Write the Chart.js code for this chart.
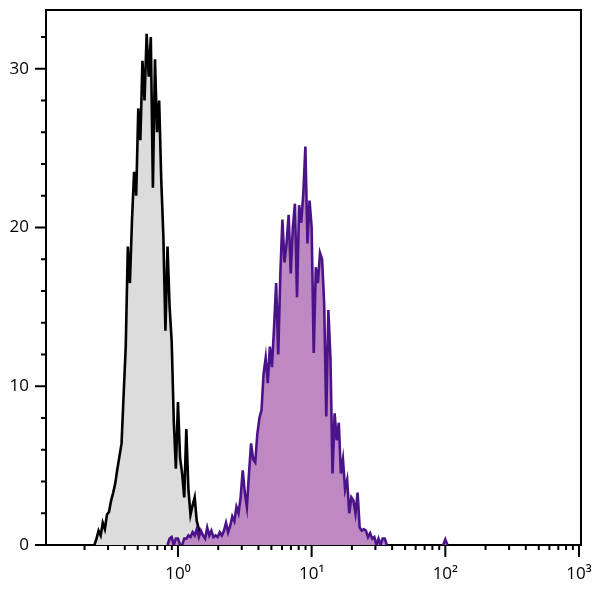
<!DOCTYPE html>
<html>
<head>
<meta charset="utf-8">
<style>
  html, body { margin: 0; padding: 0; background: #fff; }
  #wrap { width: 600px; height: 593px; }
</style>
<script src="https://cdn.jsdelivr.net/npm/chart.js@4.4.1/dist/chart.umd.min.js"></script>
</head>
<body>
<div id="wrap"><canvas id="c" width="600" height="593"></canvas></div>
<script>
// ---- binning of the histogram channels (log10 scale, 64 channels per decade) ----
const binStartLog = -1;
const binsPerDecade = 64;

// ---- control (unstained) histogram: grey fill, black outline ----
const controlStartBin = 24;
const controlCounts = [
  0, 0.4, 0.9, 0.6, 1.4, 1.0, 1.9, 2.1, 2.8, 3.3, 3.9, 4.8, 5.6, 6.4, 9.5, 12.5,
  18.8, 16.5, 20.5, 23.5, 22.0, 27.5, 25.5, 30.5, 28.0, 32.2, 29.5, 32.0, 22.5,
  30.6, 26.0, 28.0, 23.0, 19.5, 13.5, 18.8, 15.0, 12.8, 7.8, 4.8, 9.0, 5.5, 4.5,
  3.0, 7.3, 3.5, 1.9, 2.5, 3.0, 1.5, 1.0, 0.4, 0
];

// ---- stained histogram: purple fill, dark purple outline ----
const stainedStartBin = 59;
const stainedCounts = [
  0, 0.4, 0.5, 0, 0.4, 0.4, 0, 0, 0.4, 0.4, 0.6,
  0.5, 0.8, 0.6, 1.0, 0.5, 0.9, 0.6, 0.4, 1.1, 0.6,
  0.9, 0.5, 0.6, 0.5, 0.8, 0.6, 0.9, 1.4, 0.8, 1.2,
  1.8, 1.5, 2.4, 2.0, 3.0, 4.7, 3.3, 2.4, 4.5, 6.4,
  5.4, 5.2, 7.0, 8.0, 8.5, 10.8, 11.8, 10.2, 12.5, 11.2,
  13.7, 16.5, 12.0, 17.0, 20.5, 17.8, 19.0, 20.8, 17.1, 20.0,
  21.5, 15.6, 21.4, 20.3, 22.1, 25.1, 19.0, 21.7, 20.0, 12.1,
  17.5, 16.5, 18.4, 18.0, 15.2, 8.1, 14.8, 11.8, 4.5, 8.3,
  6.6, 7.7, 4.5, 5.4, 3.5, 4.1, 2.0, 3.0, 2.8, 2.0,
  3.3, 1.1, 0.9, 1.0, 0.9, 0.5, 0.75, 0.4, 0.5, 0,
  0.4, 0, 0.4, 0.4, 0
];
const stainedTailStartBin = 191;
const stainedTailCounts = [0, 0.35, 0];

// ---- axes ----
const xMin = 0.103, xMax = 1035;
const yMin = 0, yMax = 33.7;
const xMajorTicks = [1, 10, 100, 1000];
const xMajorLabels = ['10\u2070', '10\u00B9', '10\u00B2', '10\u00B3'];
const xMinorTicks = [0.2,0.3,0.4,0.5,0.6,0.7,0.8,0.9, 2,3,4,5,6,7,8,9, 20,30,40,50,60,70,80,90, 200,300,400,500,600,700,800,900];
const yMajorTicks = [0, 10, 20, 30];
const yMajorLabels = ['0', '10', '20', '30'];
const yMinorTicks = [2,4,6,8, 12,14,16,18, 22,24,26,28, 32];

function toPoints(startBin, counts) {
  return counts.map((c, i) => ({ x: Math.pow(10, binStartLog + (startBin + i) / binsPerDecade), y: c }));
}

const stainedPoints = toPoints(stainedStartBin, stainedCounts)
  .concat([{ x: Math.pow(10, binStartLog + 177 / binsPerDecade), y: null }])
  .concat(toPoints(stainedTailStartBin, stainedTailCounts));
const controlPoints = toPoints(controlStartBin, controlCounts);

const tickPlugin = {
  id: 'frameTicks',
  afterDraw(chart) {
    const { ctx, chartArea: a, scales: { x, y } } = chart;
    ctx.save();
    ctx.strokeStyle = '#000';
    ctx.lineWidth = 2;
    ctx.lineCap = 'butt';
    ctx.beginPath();
    ctx.moveTo(a.left - 1, a.top);
    ctx.lineTo(a.right, a.top);
    ctx.lineTo(a.right, a.bottom + 1);
    ctx.stroke();
    ctx.beginPath();
    xMajorTicks.forEach(v => { const p = x.getPixelForValue(v); ctx.moveTo(p, a.bottom); ctx.lineTo(p, a.bottom + 12); });
    xMinorTicks.forEach(v => { const p = x.getPixelForValue(v); ctx.moveTo(p, a.bottom); ctx.lineTo(p, a.bottom + 5); });
    yMajorTicks.forEach(v => { const p = y.getPixelForValue(v); ctx.moveTo(a.left, p); ctx.lineTo(a.left - 11, p); });
    yMinorTicks.forEach(v => { const p = y.getPixelForValue(v); ctx.moveTo(a.left, p); ctx.lineTo(a.left - 5, p); });
    ctx.stroke();
    ctx.restore();
  }
};

new Chart(document.getElementById('c'), {
  type: 'line',
  data: {
    datasets: [
      {
        label: 'Stained',
        data: stainedPoints,
        borderColor: '#4b1389',
        backgroundColor: '#be88c2',
        borderWidth: 2.6,
        fill: 'origin',
        pointRadius: 0,
        tension: 0,
        spanGaps: false
      },
      {
        label: 'Control',
        data: controlPoints,
        borderColor: '#000000',
        backgroundColor: '#dcdcdc',
        borderWidth: 2.6,
        fill: 'origin',
        pointRadius: 0,
        tension: 0
      }
    ]
  },
  options: {
    responsive: false,
    animation: false,
    events: [],
    layout: { padding: { top: 10, right: 19, left: 0, bottom: 0 } },
    plugins: { legend: { display: false }, tooltip: { enabled: false } },
    scales: {
      x: {
        type: 'logarithmic',
        min: xMin,
        max: xMax,
        afterFit(s) { s.height = 48; s.paddingLeft = 0; s.paddingRight = 0; },
        afterBuildTicks(s) { s.ticks = xMajorTicks.map(v => ({ value: v })); },
        ticks: {
          autoSkip: false,
          maxRotation: 0,
          color: '#000',
          padding: 7,
          font: { family: "'Open Sans', 'DejaVu Sans', sans-serif", size: 17 },
          callback(value) {
            const k = xMajorTicks.indexOf(value);
            return k >= 0 ? xMajorLabels[k] : '';
          }
        },
        grid: { display: true, drawOnChartArea: false, drawTicks: true, tickLength: 12, tickColor: 'rgba(0,0,0,0)' },
        border: { display: true, color: '#000', width: 2 }
      },
      y: {
        type: 'linear',
        min: yMin,
        max: yMax,
        afterFit(s) { s.width = 46; s.paddingTop = 0; s.paddingBottom = 0; },
        afterBuildTicks(s) { s.ticks = yMajorTicks.map(v => ({ value: v })); },
        ticks: {
          color: '#000',
          padding: 6,
          font: { family: "'Open Sans', 'DejaVu Sans', sans-serif", size: 17 },
          callback(value) {
            const k = yMajorTicks.indexOf(value);
            return k >= 0 ? yMajorLabels[k] : '';
          }
        },
        grid: { display: true, drawOnChartArea: false, drawTicks: true, tickLength: 11, tickColor: 'rgba(0,0,0,0)' },
        border: { display: true, color: '#000', width: 2 }
      }
    }
  },
  plugins: [tickPlugin]
});
</script>
</body>
</html>
